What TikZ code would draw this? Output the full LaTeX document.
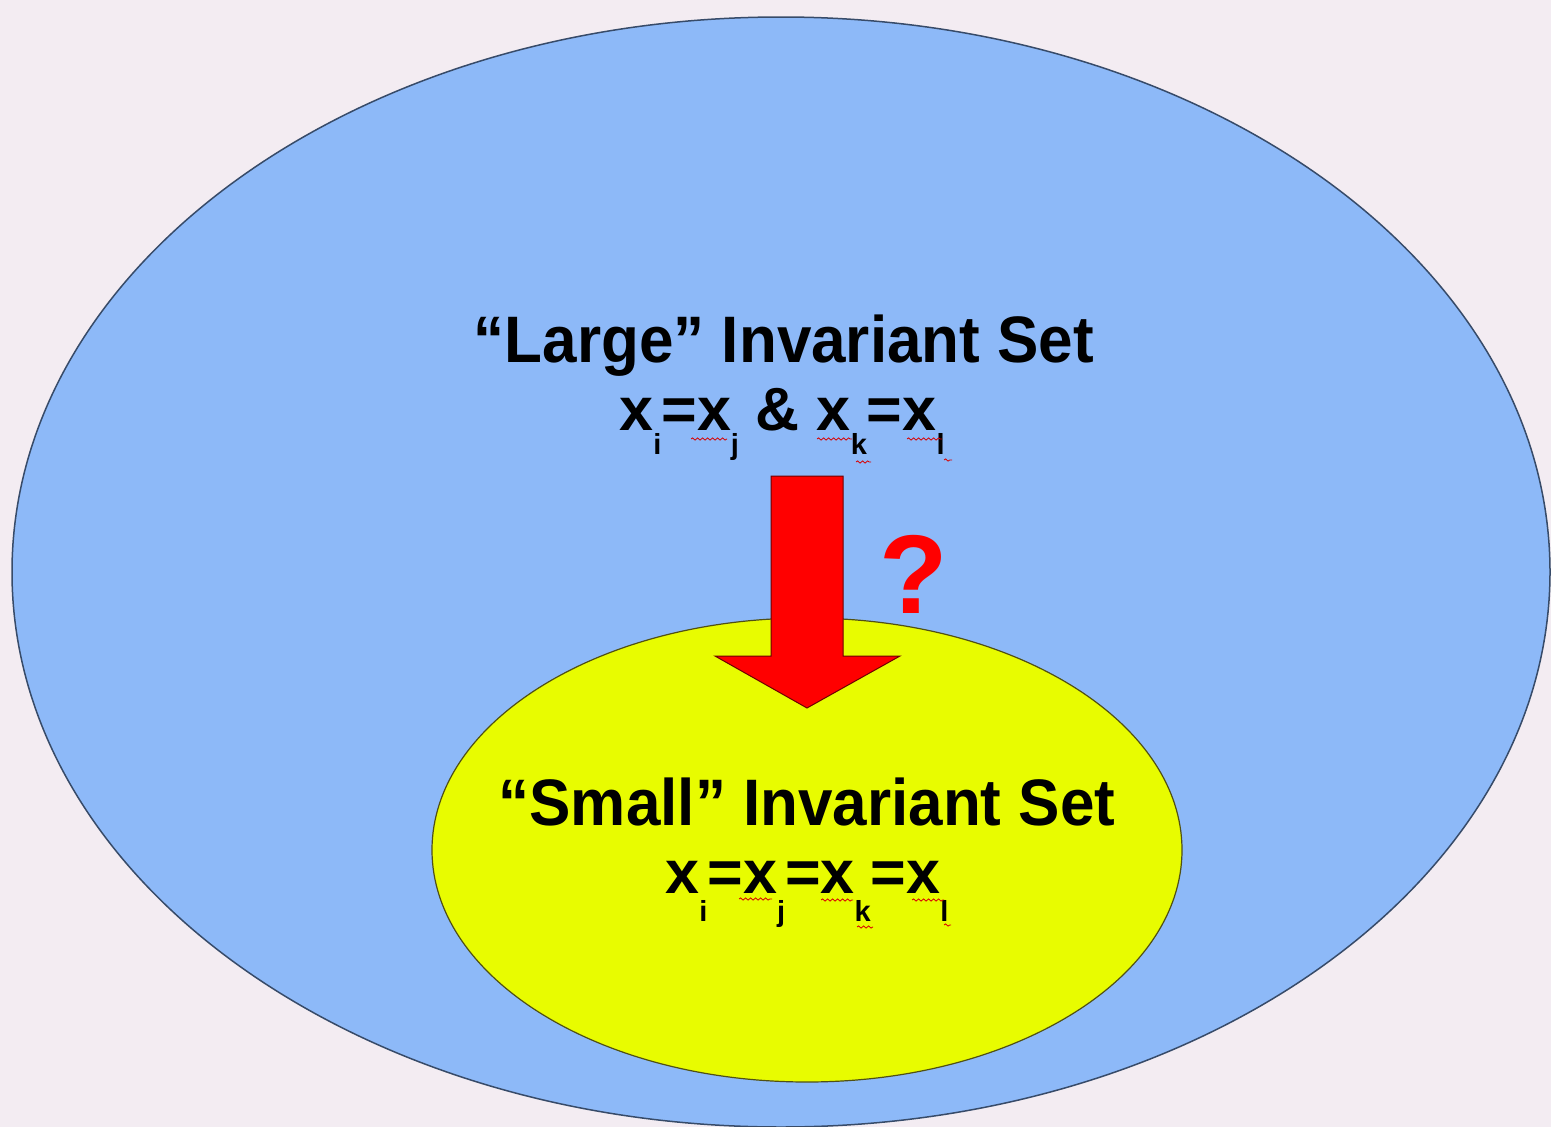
\documentclass[tikz,border=0pt]{standalone}
\usepackage{fontspec}
\setmainfont{Liberation Sans}
\usetikzlibrary{decorations.pathmorphing}
\definecolor{bgc}{RGB}{243,236,242}
\definecolor{bluefill}{RGB}{141,185,248}
\definecolor{blueline}{RGB}{55,75,105}
\definecolor{yellowfill}{RGB}{232,252,0}
\definecolor{yellowline}{RGB}{80,80,20}
\definecolor{arrowline}{RGB}{110,0,0}
\newcommand{\subA}[1]{\raisebox{-0.40em}{\fontsize{29}{29}\selectfont #1}}
\newcommand{\subB}[1]{\raisebox{-0.46em}{\fontsize{29}{29}\selectfont #1}}
\newcommand{\tall}[1]{\scalebox{1}[1.06]{#1}}
\tikzset{
  titletext/.style={font=\fontsize{62}{62}\selectfont\bfseries, anchor=base, inner sep=0pt},
  formtext/.style={font=\fontsize{61}{61}\selectfont\bfseries, anchor=base, inner sep=0pt},
  qmark/.style={font=\fontsize{112}{112}\selectfont\bfseries, text=red, anchor=base, inner sep=0pt},
  squig/.style={draw=red!85!black, line width=0.8pt, decorate, decoration={snake, amplitude=1.1pt, segment length=5pt}},
  setshape/.style={line width=1.5pt}
}
\begin{document}
\begin{tikzpicture}[x=1pt,y=-1pt]
\useasboundingbox (0,0) rectangle (1551,1127);
\fill[bgc] (0,0) rectangle (1551,1127);
\begin{scope}
\clip (0,0) rectangle (1551,1127);
\draw[setshape, fill=bluefill, draw=blueline] (781,572) ellipse [x radius=769pt, y radius=555pt];
\end{scope}
\draw[setshape, fill=yellowfill, draw=yellowline, line width=1.2pt] (807,850) ellipse [x radius=375pt, y radius=232pt];

% arrow
\draw[fill=red, draw=arrowline, line width=1pt, line join=miter]
  (771,476) -- (843,476) -- (843,656) -- (900,656) -- (807,708) -- (715,656) -- (771,656) -- cycle;

\node[qmark] (q) at (914,613) {?};

\node[titletext] (large) at (784,362) {\tall{“Large” Invariant Set}};
\node[formtext] (lform) at (782,430) {x\subA{i}=x\subA{j} \& x\subA{k}=x\subA{l}};

\node[titletext] (small) at (807,825) {\tall{“Small” Invariant Set}};
\node[formtext] (sform) at (807,893) {x\subB{i}=x\subB{j}=x\subB{k}=x\subB{l}};

% spell-check squiggles
\draw[squig] (691,439) -- (727,439);
\draw[squig] (817,439) -- (852,439);
\draw[squig] (907,439) -- (942,439);
\draw[squig] (856,462) -- (871,462);
\draw[squig] (944,460) -- (952,460);
\draw[squig] (739,899) -- (772,899);
\draw[squig] (821,900) -- (853,900);
\draw[squig] (912,900) -- (944,900);
\draw[squig] (857,927) -- (873,927);
\draw[squig] (944,925) -- (951,925);
\end{tikzpicture}
\end{document}
